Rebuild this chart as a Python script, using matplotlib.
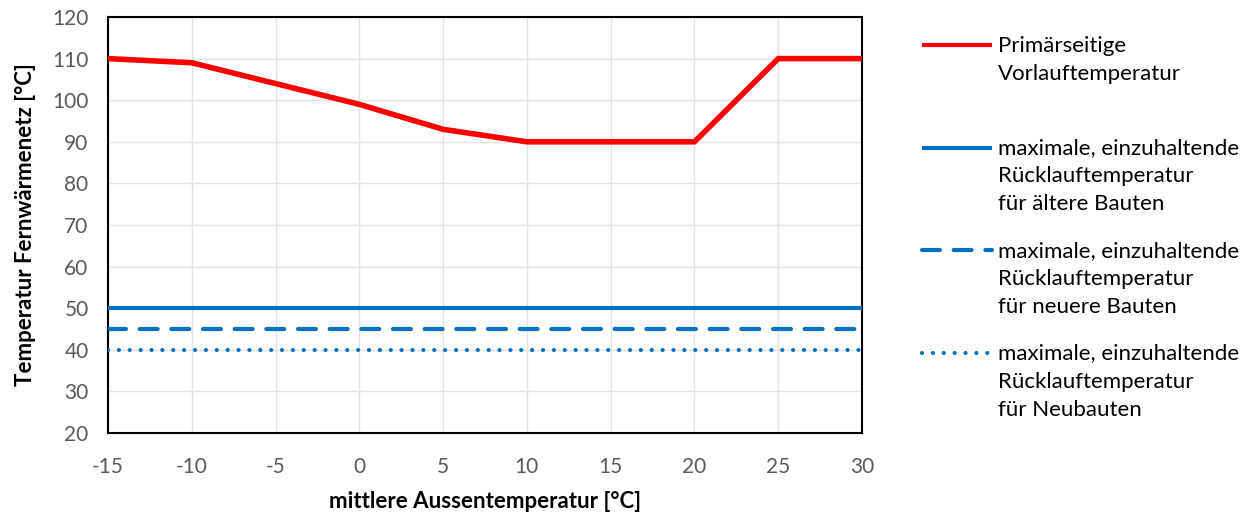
import matplotlib
matplotlib.use("Agg")
import matplotlib.pyplot as plt
from matplotlib.lines import Line2D

# ── data ──────────────────────────────────────────────────────────────────────
aussen_temp = [-15, -10, -5, 0, 5, 10, 15, 20, 25, 30]
vorlauf     = [110, 109, 104, 99, 93, 90, 90, 90, 110, 110]
ruecklauf_alt  = [50] * len(aussen_temp)
ruecklauf_neu  = [45] * len(aussen_temp)
ruecklauf_nb   = [40] * len(aussen_temp)

labels = [
    "Primärseitige\nVorlauftemperatur",
    "maximale, einzuhaltende\nRücklauftemperatur\nfür ältere Bauten",
    "maximale, einzuhaltende\nRücklauftemperatur\nfür neuere Bauten",
    "maximale, einzuhaltende\nRücklauftemperatur\nfür Neubauten",
]

# ── styling ──────────────────────────────────────────────────────────────────
RED  = "#FF0000"
BLUE = "#0070C0"
TICK_COL = "#595959"
GRID_COL = "#E3E3E3"
FS = 16

plt.rcParams["font.family"] = ["Lato", "DejaVu Sans"]
plt.rcParams["axes.unicode_minus"] = False

W, H = 1255, 515
fig = plt.figure(figsize=(W / 100, H / 100), dpi=100)
ax = fig.add_axes([108 / W, 1 - 433 / H, (862 - 108) / W, (433 - 17) / H])

styles = [
    dict(color=RED, lw=4.0, ls="-", solid_capstyle="butt"),
    dict(color=BLUE, lw=3.0, ls="-", solid_capstyle="butt"),
    dict(color=BLUE, lw=3.0, ls=(0, (4.3, 3.3)), dash_capstyle="round"),
    dict(color=BLUE, lw=3.0, ls=(0, (0.01, 2.6)), dash_capstyle="round"),
]
series = [vorlauf, ruecklauf_alt, ruecklauf_neu, ruecklauf_nb]

for ys, st in zip(series, styles):
    ax.plot(aussen_temp, ys, zorder=3, **st)

ax.set_xlim(-15, 30)
ax.set_ylim(20, 120)
ax.set_xticks(range(-15, 31, 5))
ax.set_yticks(range(20, 121, 10))
ax.grid(True, color=GRID_COL, lw=1.0)
ax.set_axisbelow(True)
for s in ax.spines.values():
    s.set_color("black")
    s.set_linewidth(1.5)
ax.tick_params(length=0, labelsize=15, colors=TICK_COL)
ax.tick_params(axis="x", pad=17)
ax.tick_params(axis="y", pad=14)

ax.set_xlabel("mittlere Aussentemperatur [°C]", fontsize=FS, fontweight="bold",
              labelpad=10)
ax.set_ylabel("Temperatur Fernwärmenetz [°C]", fontsize=FS, fontweight="bold",
              labelpad=12)

# ── legend (drawn by hand to match the stacked layout) ───────────────────────
x0, x1, xt = 922 / W, 992 / W, 998 / W
y_first = 45
step = 102.5
for i, (lab, st) in enumerate(zip(labels, styles)):
    yl = 1 - (y_first + i * step) / H
    lst = dict(st)
    if i == 0:
        lst["lw"] = 3.0
    fig.add_artist(Line2D([x0, x1], [yl, yl], transform=fig.transFigure, **lst))
    fig.text(xt, 1 - (y_first + i * step - 9) / H, lab, fontsize=FS,
             va="top", ha="left", color="black", linespacing=1.5)

fig.savefig("out.png", dpi=100)
